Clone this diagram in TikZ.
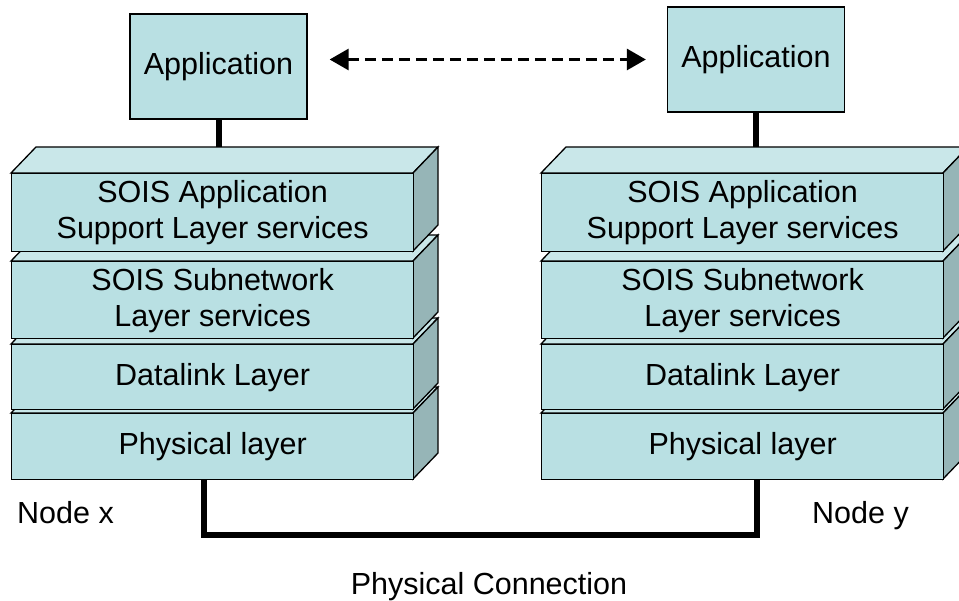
\documentclass[tikz,border=0pt]{standalone}
\usepackage{fontspec}
\setmainfont{Liberation Sans}
\usetikzlibrary{arrows.meta}

\definecolor{facefront}{RGB}{185,224,227}
\definecolor{facetop}{RGB}{201,231,233}
\definecolor{faceside}{RGB}{150,181,183}

\tikzset{
  edge/.style={draw=black, line width=1.3pt, line join=miter},
  txt/.style={font=\fontsize{30.5}{36}\selectfont},
  layerfront/.style={edge, fill=facefront, minimum width=402pt, inner sep=0pt,
    align=center, anchor=north west, txt},
  appbox/.style={edge, fill=facefront, minimum width=177pt, minimum height=105pt,
    inner sep=0pt, txt},
  link/.style={line width=6pt, line join=miter},
  peer/.style={line width=3pt, dash pattern=on 11pt off 6pt,
    {Triangle[length=19pt,width=21pt]}-{Triangle[length=19pt,width=21pt]}},
  caption/.style={txt, inner sep=0pt}
}

% One protocol layer drawn as a slab: top face, side face, then the front face node.
% #1 name, #2 left x, #3 top y of the front face, #4 height, #5 text
\newcommand\layerslab[5]{%
  \path[edge, fill=facetop] (#2,#3) -- ++(25,-26) -- ++(402,0) -- ++(-25,26) -- cycle;
  \path[edge, fill=faceside] ({#2+402},#3) -- ++(25,-26) -- ++(0,#4) -- ++(-25,26) -- cycle;
  \node[layerfront, minimum height=#4pt] (#1) at (#2,#3) {#5};
  \coordinate (#1-back) at ({#2+25},{#3-26});
}

\begin{document}
\begin{tikzpicture}[x=1pt, y=-1pt]
  \useasboundingbox[fill=white] (0,0) rectangle (959,601);
  \clip (0,0) rectangle (959,601);

  % Node x protocol stack (lowest layer first)
  \layerslab{xL4}{11}{413}{66}{Physical layer}
  \layerslab{xL3}{11}{344}{65}{Datalink Layer}
  \layerslab{xL2}{11}{261}{77}{SOIS Subnetwork\\Layer services}
  \layerslab{xL1}{11}{173}{78}{SOIS Application\\Support Layer services}

  % Node y protocol stack
  \layerslab{yL4}{541}{413}{66}{Physical layer}
  \layerslab{yL3}{541}{344}{65}{Datalink Layer}
  \layerslab{yL2}{541}{261}{77}{SOIS Subnetwork\\Layer services}
  \layerslab{yL1}{541}{173}{78}{SOIS Application\\Support Layer services}

  % Applications
  \node[appbox] (appx) at (218.5,66.5) {Application};
  \node[appbox] (appy) at (756,59.5) {Application};

  \draw[link] (appx.south) -- (appx.south |- xL1-back);
  \draw[link] (appy.south) -- (appy.south |- yL1-back);

  % Logical peer-to-peer exchange
  \draw[peer] ([xshift=22pt]appx.east |- appy.west) -- ([xshift=-21pt]appy.west);

  % Physical connection between the two nodes
  \coordinate (busx) at (204,535);
  \coordinate (busy) at (757,535);
  \draw[link] (xL4.south -| busx) -- (busx) -- (busy) -- (yL4.south -| busy);

  % Labels
  \node[caption, anchor=base west] (nx) at (17,523) {Node x};
  \node[caption, anchor=base west] (ny) at (812,523) {Node y};
  \node[caption, anchor=base] (pc) at (489,594) {Physical Connection};
\end{tikzpicture}
\end{document}
